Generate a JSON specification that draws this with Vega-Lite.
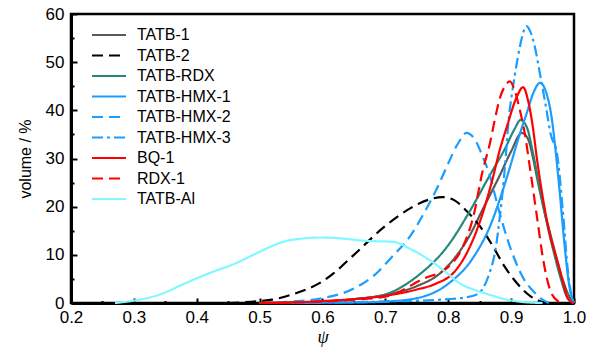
{
  "$schema": "https://vega.github.io/schema/vega-lite/v6.json",
  "width": 503,
  "height": 289,
  "autosize": "none",
  "padding": {"left": 71, "top": 14, "right": 19, "bottom": 44},
  "background": "white",
  "config": {"view": {"stroke": "black", "strokeWidth": 2.5}},
  "data": {"values": [
    {"s":"TATB-1","x":0.5,"y":0},{"s":"TATB-1","x":0.55,"y":0.1},{"s":"TATB-1","x":0.6,"y":0.3},{"s":"TATB-1","x":0.65,"y":0.8},{"s":"TATB-1","x":0.7,"y":1.7},{"s":"TATB-1","x":0.75,"y":3.5},{"s":"TATB-1","x":0.79,"y":6.5},{"s":"TATB-1","x":0.834,"y":14},{"s":"TATB-1","x":0.855,"y":19.5},{"s":"TATB-1","x":0.882,"y":26.5},{"s":"TATB-1","x":0.9,"y":31.5},{"s":"TATB-1","x":0.917,"y":35.3},{"s":"TATB-1","x":0.927,"y":34},{"s":"TATB-1","x":0.935,"y":30},{"s":"TATB-1","x":0.942,"y":25.5},{"s":"TATB-1","x":0.952,"y":19.5},{"s":"TATB-1","x":0.962,"y":14.5},{"s":"TATB-1","x":0.973,"y":9},{"s":"TATB-1","x":0.983,"y":4.5},{"s":"TATB-1","x":0.992,"y":1.5},{"s":"TATB-1","x":1.0,"y":0},
    {"s":"TATB-2","x":0.45,"y":0},{"s":"TATB-2","x":0.5,"y":0.4},{"s":"TATB-2","x":0.52,"y":0.7},{"s":"TATB-2","x":0.55,"y":1.7},{"s":"TATB-2","x":0.574,"y":2.8},{"s":"TATB-2","x":0.6,"y":4.5},{"s":"TATB-2","x":0.616,"y":6},{"s":"TATB-2","x":0.65,"y":10},{"s":"TATB-2","x":0.7,"y":16},{"s":"TATB-2","x":0.74,"y":19.7},{"s":"TATB-2","x":0.77,"y":21.5},{"s":"TATB-2","x":0.79,"y":22},{"s":"TATB-2","x":0.81,"y":21.3},{"s":"TATB-2","x":0.83,"y":19},{"s":"TATB-2","x":0.85,"y":16},{"s":"TATB-2","x":0.87,"y":12},{"s":"TATB-2","x":0.89,"y":7.5},{"s":"TATB-2","x":0.91,"y":4},{"s":"TATB-2","x":0.93,"y":1.5},{"s":"TATB-2","x":0.95,"y":0.2},{"s":"TATB-2","x":0.96,"y":0},
    {"s":"TATB-RDX","x":0.5,"y":0},{"s":"TATB-RDX","x":0.6,"y":0.3},{"s":"TATB-RDX","x":0.65,"y":0.8},{"s":"TATB-RDX","x":0.7,"y":1.8},{"s":"TATB-RDX","x":0.75,"y":5.5},{"s":"TATB-RDX","x":0.8,"y":12},{"s":"TATB-RDX","x":0.834,"y":19},{"s":"TATB-RDX","x":0.866,"y":26.5},{"s":"TATB-RDX","x":0.89,"y":32},{"s":"TATB-RDX","x":0.905,"y":36},{"s":"TATB-RDX","x":0.915,"y":38},{"s":"TATB-RDX","x":0.925,"y":36.5},{"s":"TATB-RDX","x":0.935,"y":31},{"s":"TATB-RDX","x":0.946,"y":23.5},{"s":"TATB-RDX","x":0.957,"y":16.5},{"s":"TATB-RDX","x":0.967,"y":11},{"s":"TATB-RDX","x":0.978,"y":5.5},{"s":"TATB-RDX","x":0.99,"y":1},{"s":"TATB-RDX","x":1.0,"y":0},
    {"s":"TATB-HMX-1","x":0.55,"y":0},{"s":"TATB-HMX-1","x":0.6,"y":0.05},{"s":"TATB-HMX-1","x":0.65,"y":0.1},{"s":"TATB-HMX-1","x":0.7,"y":0.3},{"s":"TATB-HMX-1","x":0.75,"y":1},{"s":"TATB-HMX-1","x":0.8,"y":4},{"s":"TATB-HMX-1","x":0.84,"y":9.5},{"s":"TATB-HMX-1","x":0.866,"y":15.8},{"s":"TATB-HMX-1","x":0.887,"y":23.5},{"s":"TATB-HMX-1","x":0.9,"y":29},{"s":"TATB-HMX-1","x":0.91,"y":33.5},{"s":"TATB-HMX-1","x":0.925,"y":39.5},{"s":"TATB-HMX-1","x":0.935,"y":43.5},{"s":"TATB-HMX-1","x":0.946,"y":45.7},{"s":"TATB-HMX-1","x":0.955,"y":44},{"s":"TATB-HMX-1","x":0.965,"y":38},{"s":"TATB-HMX-1","x":0.972,"y":30},{"s":"TATB-HMX-1","x":0.978,"y":22},{"s":"TATB-HMX-1","x":0.985,"y":12},{"s":"TATB-HMX-1","x":0.992,"y":4},{"s":"TATB-HMX-1","x":1.0,"y":0},
    {"s":"TATB-HMX-2","x":0.5,"y":0},{"s":"TATB-HMX-2","x":0.55,"y":0.3},{"s":"TATB-HMX-2","x":0.6,"y":1},{"s":"TATB-HMX-2","x":0.65,"y":3},{"s":"TATB-HMX-2","x":0.68,"y":5.5},{"s":"TATB-HMX-2","x":0.71,"y":9.5},{"s":"TATB-HMX-2","x":0.74,"y":14},{"s":"TATB-HMX-2","x":0.765,"y":19.5},{"s":"TATB-HMX-2","x":0.781,"y":23.5},{"s":"TATB-HMX-2","x":0.8,"y":29},{"s":"TATB-HMX-2","x":0.815,"y":33},{"s":"TATB-HMX-2","x":0.829,"y":35.3},{"s":"TATB-HMX-2","x":0.842,"y":34},{"s":"TATB-HMX-2","x":0.855,"y":30.3},{"s":"TATB-HMX-2","x":0.866,"y":26.5},{"s":"TATB-HMX-2","x":0.88,"y":19.5},{"s":"TATB-HMX-2","x":0.893,"y":13.7},{"s":"TATB-HMX-2","x":0.909,"y":8},{"s":"TATB-HMX-2","x":0.92,"y":5},{"s":"TATB-HMX-2","x":0.935,"y":2.5},{"s":"TATB-HMX-2","x":0.95,"y":0.7},{"s":"TATB-HMX-2","x":0.96,"y":0},
    {"s":"TATB-HMX-3","x":0.55,"y":0},{"s":"TATB-HMX-3","x":0.6,"y":0.1},{"s":"TATB-HMX-3","x":0.7,"y":0.3},{"s":"TATB-HMX-3","x":0.8,"y":0.8},{"s":"TATB-HMX-3","x":0.84,"y":1.5},{"s":"TATB-HMX-3","x":0.855,"y":3},{"s":"TATB-HMX-3","x":0.865,"y":6},{"s":"TATB-HMX-3","x":0.875,"y":11},{"s":"TATB-HMX-3","x":0.883,"y":19},{"s":"TATB-HMX-3","x":0.89,"y":28},{"s":"TATB-HMX-3","x":0.896,"y":38},{"s":"TATB-HMX-3","x":0.902,"y":44},{"s":"TATB-HMX-3","x":0.91,"y":50.5},{"s":"TATB-HMX-3","x":0.918,"y":55.5},{"s":"TATB-HMX-3","x":0.924,"y":57.5},{"s":"TATB-HMX-3","x":0.93,"y":56.5},{"s":"TATB-HMX-3","x":0.938,"y":53},{"s":"TATB-HMX-3","x":0.946,"y":47.5},{"s":"TATB-HMX-3","x":0.955,"y":41},{"s":"TATB-HMX-3","x":0.963,"y":35},{"s":"TATB-HMX-3","x":0.973,"y":31},{"s":"TATB-HMX-3","x":0.983,"y":18},{"s":"TATB-HMX-3","x":0.99,"y":7},{"s":"TATB-HMX-3","x":0.997,"y":1},{"s":"TATB-HMX-3","x":1.0,"y":0},
    {"s":"BQ-1","x":0.5,"y":0},{"s":"BQ-1","x":0.55,"y":0.1},{"s":"BQ-1","x":0.6,"y":0.4},{"s":"BQ-1","x":0.65,"y":0.8},{"s":"BQ-1","x":0.7,"y":1.5},{"s":"BQ-1","x":0.75,"y":2.8},{"s":"BQ-1","x":0.78,"y":4},{"s":"BQ-1","x":0.81,"y":6.5},{"s":"BQ-1","x":0.83,"y":10.5},{"s":"BQ-1","x":0.855,"y":18.7},{"s":"BQ-1","x":0.87,"y":25.5},{"s":"BQ-1","x":0.882,"y":31.8},{"s":"BQ-1","x":0.893,"y":36.5},{"s":"BQ-1","x":0.909,"y":42.8},{"s":"BQ-1","x":0.919,"y":44.8},{"s":"BQ-1","x":0.927,"y":42},{"s":"BQ-1","x":0.934,"y":37},{"s":"BQ-1","x":0.941,"y":30},{"s":"BQ-1","x":0.951,"y":21.4},{"s":"BQ-1","x":0.962,"y":14},{"s":"BQ-1","x":0.973,"y":8.9},{"s":"BQ-1","x":0.982,"y":4.5},{"s":"BQ-1","x":0.99,"y":1},{"s":"BQ-1","x":1.0,"y":0},
    {"s":"RDX-1","x":0.5,"y":0},{"s":"RDX-1","x":0.6,"y":0.3},{"s":"RDX-1","x":0.65,"y":0.7},{"s":"RDX-1","x":0.7,"y":1.3},{"s":"RDX-1","x":0.76,"y":5},{"s":"RDX-1","x":0.8,"y":7.5},{"s":"RDX-1","x":0.823,"y":11.6},{"s":"RDX-1","x":0.84,"y":18},{"s":"RDX-1","x":0.855,"y":27.6},{"s":"RDX-1","x":0.866,"y":33},{"s":"RDX-1","x":0.874,"y":38},{"s":"RDX-1","x":0.882,"y":42.5},{"s":"RDX-1","x":0.89,"y":45},{"s":"RDX-1","x":0.898,"y":46},{"s":"RDX-1","x":0.906,"y":44},{"s":"RDX-1","x":0.914,"y":40},{"s":"RDX-1","x":0.922,"y":35},{"s":"RDX-1","x":0.93,"y":28},{"s":"RDX-1","x":0.941,"y":18},{"s":"RDX-1","x":0.951,"y":9},{"s":"RDX-1","x":0.962,"y":2.7},{"s":"RDX-1","x":0.975,"y":0.3},{"s":"RDX-1","x":0.98,"y":0},
    {"s":"TATB-Al","x":0.27,"y":0},{"s":"TATB-Al","x":0.3,"y":0.5},{"s":"TATB-Al","x":0.34,"y":1.7},{"s":"TATB-Al","x":0.38,"y":4},{"s":"TATB-Al","x":0.42,"y":6.2},{"s":"TATB-Al","x":0.463,"y":8.3},{"s":"TATB-Al","x":0.49,"y":10},{"s":"TATB-Al","x":0.516,"y":11.6},{"s":"TATB-Al","x":0.54,"y":12.8},{"s":"TATB-Al","x":0.563,"y":13.3},{"s":"TATB-Al","x":0.595,"y":13.6},{"s":"TATB-Al","x":0.62,"y":13.5},{"s":"TATB-Al","x":0.67,"y":12.9},{"s":"TATB-Al","x":0.712,"y":12.7},{"s":"TATB-Al","x":0.743,"y":11},{"s":"TATB-Al","x":0.775,"y":8.5},{"s":"TATB-Al","x":0.8,"y":6},{"s":"TATB-Al","x":0.818,"y":4.1},{"s":"TATB-Al","x":0.84,"y":2.8},{"s":"TATB-Al","x":0.866,"y":1.7},{"s":"TATB-Al","x":0.89,"y":0.8},{"s":"TATB-Al","x":0.919,"y":0.2},{"s":"TATB-Al","x":0.95,"y":0}
  ]},
  "mark": {"type": "line", "interpolate": "monotone", "strokeWidth": 2.2},
  "encoding": {
    "x": {"field": "x", "type": "quantitative",
      "scale": {"domain": [0.2, 1.0], "nice": false, "zero": false},
      "axis": {
        "values": [0.2,0.25,0.3,0.35,0.4,0.45,0.5,0.55,0.6,0.65,0.7,0.75,0.8,0.85,0.9,0.95,1.0],
        "labelExpr": "abs(datum.value*10-round(datum.value*10))<0.001 ? format(datum.value,'.1f') : ''",
        "tickSize": {"condition": {"test": "abs(datum.value*10-round(datum.value*10))<0.001", "value": -5}, "value": -2.5},
        "tickWidth": 2, "tickColor": "black",
        "domainWidth": 3, "domainColor": "black", "grid": false,
        "labelFont": "Liberation Sans", "labelFontSize": 17, "labelColor": "black",
        "labelPadding": 11, "labelOverlap": false, "labelFlush": false,
        "title": "ψ", "titleFont": "Liberation Serif", "titleFontStyle": "italic",
        "titleFontWeight": "normal", "titleFontSize": 18, "titleColor": "black", "titlePadding": 1
      }},
    "y": {"field": "y", "type": "quantitative",
      "scale": {"domain": [0, 60], "nice": false},
      "axis": {
        "values": [0,5,10,15,20,25,30,35,40,45,50,55,60],
        "labelExpr": "datum.value % 10 == 0 ? datum.value : ''",
        "tickSize": {"condition": {"test": "datum.value % 10 == 0", "value": -6}, "value": -3},
        "tickWidth": 2, "tickColor": "black",
        "domainWidth": 3, "domainColor": "black", "grid": false,
        "labelFont": "Liberation Sans", "labelFontSize": 17, "labelColor": "black",
        "labelPadding": 13, "labelOverlap": false, "labelFlush": false,
        "title": "volume / %", "titleFont": "Liberation Sans", "titleFontWeight": "normal",
        "titleFontSize": 16, "titleColor": "black", "titlePadding": 12
      }},
    "color": {"field": "s", "type": "nominal",
      "scale": {
        "domain": ["TATB-1","TATB-2","TATB-RDX","TATB-HMX-1","TATB-HMX-2","TATB-HMX-3","BQ-1","RDX-1","TATB-Al"],
        "range": ["#5a5a5a","#000000","#22897a","#1a9dff","#1a9dff","#1a9dff","#ff0000","#ff0000","#80f8ff"]},
      "legend": {"title": null, "orient": "none", "legendX": 28, "legendY": 11,
        "symbolType": "M-2,0H2", "symbolSize": 289, "symbolStrokeWidth": 2.2,
        "labelFont": "Liberation Sans", "labelFontSize": 16, "labelColor": "black",
        "labelOffset": 18, "rowPadding": 2.5}},
    "strokeDash": {"field": "s", "type": "nominal",
      "scale": {
        "domain": ["TATB-1","TATB-2","TATB-RDX","TATB-HMX-1","TATB-HMX-2","TATB-HMX-3","BQ-1","RDX-1","TATB-Al"],
        "range": [[1,0],[11,6],[1,0],[1,0],[11,6],[11,4,3,4],[1,0],[11,6],[1,0]]},
      "legend": {"title": null, "orient": "none", "legendX": 28, "legendY": 11,
        "symbolType": "M-2,0H2", "symbolSize": 289, "symbolStrokeWidth": 2.2,
        "labelFont": "Liberation Sans", "labelFontSize": 16, "labelColor": "black",
        "labelOffset": 18, "rowPadding": 2.5}}
  }
}
